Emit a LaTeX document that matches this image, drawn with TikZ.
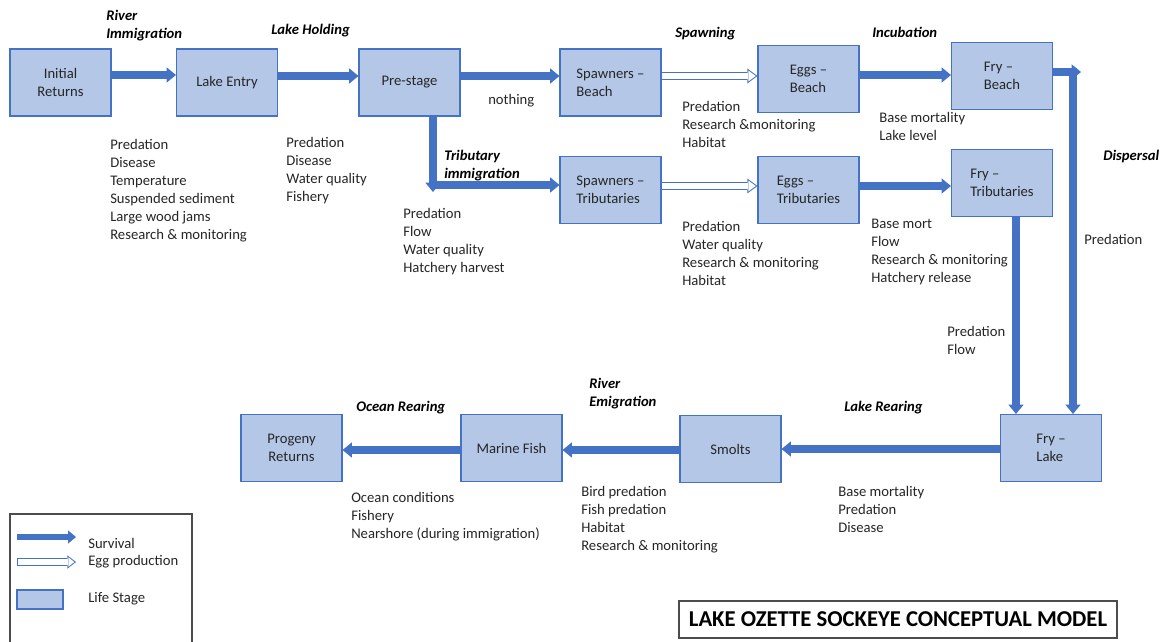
\documentclass[tikz,border=0pt]{standalone}
\usepackage{fontspec}
\setmainfont{Carlito}
\usetikzlibrary{arrows.meta}
\definecolor{boxfill}{HTML}{B4C7E7}
\definecolor{boxline}{HTML}{4472C4}
\definecolor{arrc}{HTML}{4472C4}
\definecolor{txt}{HTML}{262626}
\begin{document}
\begin{tikzpicture}[x=0.75pt,y=-0.75pt,
 stage/.style={draw=boxline, fill=boxfill, line width=0.8pt, minimum width=75.75pt, minimum height=50.25pt, inner sep=0pt, align=left, font=\fontsize{11}{13.5}\selectfont, text=txt},
 surv/.style={draw=arrc, line width=6pt, -{Triangle[length=7pt,width=11.5pt,line width=0pt]}},
 eggout/.style={draw=arrc, line width=6pt, -{Triangle[length=7.5pt,width=11pt,line width=0pt]}},
 eggin/.style={draw=white, line width=4.5pt, shorten >=1.27pt, -{Triangle[length=5.48pt,width=8pt,line width=0pt]}},
 lst/.style={anchor=north west, inner sep=0pt, align=left, font=\fontsize{11}{13.5}\selectfont, text=txt, execute at begin node=\strut},
 phase/.style={lst, font=\fontsize{11}{13.5}\selectfont\bfseries\itshape, text=black},
]
\useasboundingbox (0,0) rectangle (1160,642);
\fill[white] (0,0) rectangle (1160,642);

% life stages
\node[stage, align=center] (ir) at (60.5,82.5) {Initial\\Returns};
\node[stage] (le) at (227,82.5) {Lake Entry};
\node[stage] (ps) at (409.5,82.5) {Pre-stage};
\node[stage] (sb) at (610.5,82.5) {Spawners --\\Beach};
\node[stage] (eb) at (808.5,79) {Eggs --\\Beach};
\node[stage] (fb) at (1002,76) {Fry --\\Beach};
\node[stage] (st) at (610.5,190) {Spawners --\\Tributaries};
\node[stage] (et) at (808.5,190) {Eggs --\\Tributaries};
\node[stage] (ft) at (1002,183) {Fry --\\Tributaries};
\node[stage] (fl) at (1051,448) {Fry --\\Lake};
\node[stage] (sm) at (730.5,449) {Smolts};
\node[stage] (mf) at (511.5,448) {Marine Fish};
\node[stage, align=center] (pr) at (291.5,448) {Progeny\\Returns};

% helper coordinates
\coordinate (y75) at (0,75);
\coordinate (y76) at (0,76);
\coordinate (y186) at (0,186);
\coordinate (y449) at (0,449);
\coordinate (y450) at (0,450);
\coordinate (tdx) at (433,192);
\coordinate (th) at (430,185);
\coordinate (fbx) at (1081,72);
\coordinate (dj) at (1073,68);
\coordinate (ftx) at (1016,0);

% survival arrows
\draw[surv] (ir.east |- y75) -- (le.west |- y75);
\draw[surv] (le.east |- y76) -- (ps.west |- y76);
\draw[surv] (ps.east |- y76) -- (sb.west |- y76);
\draw[surv] (ps.south -| tdx) -- (tdx);
\draw[surv] (th) -- (st.west |- th);
\draw[surv] (eb.east |- y75) -- (fb.west |- y75);
\draw[surv] (et.east |- y186) -- (ft.west |- y186);
\draw[surv] (fb.east |- fbx) -- (fbx);
\draw[surv] (dj) -- (dj |- fl.north);
\draw[surv] (ft.south -| ftx) -- (fl.north -| ftx);
\draw[surv] (fl.west |- y449) -- (sm.east |- y449);
\draw[surv] (sm.west |- y450) -- (mf.east |- y450);
\draw[surv] (mf.west |- y450) -- (pr.east |- y450);

% egg production arrows
\draw[eggout] (sb.east |- y76) -- (eb.west |- y76);
\draw[eggin] (sb.east |- y76) -- (eb.west |- y76);
\draw[eggout] (st.east |- y186) -- (et.west |- y186);
\draw[eggin] (st.east |- y186) -- (et.west |- y186);

% phase labels
\node[phase] (pRI) at (106,10.4) {River\\Immigration};
\node[phase] (pLH) at (271,21.4) {Lake Holding};
\node[phase] (pSp) at (675,24.4) {Spawning};
\node[phase] (pIn) at (872,24.4) {Incubation};
\node[phase] (pTI) at (444,150.4) {Tributary\\immigration};
\node[phase] (pDi) at (1103,147.5) {Dispersal};
\node[phase] (pLR) at (844,398.4) {Lake Rearing};
\node[phase] (pRE) at (589,377.9) {River\\Emigration};
\node[phase] (pOR) at (356,398.4) {Ocean Rearing};

% factor lists
\node[lst] (f1) at (110,138.9) {Predation\\Disease\\Temperature\\Suspended sediment\\Large wood jams\\Research \& monitoring};
\node[lst] (f2) at (286,136.9) {Predation\\Disease\\Water quality\\Fishery};
\node[lst] (f3) at (488,91.4) {nothing};
\node[lst] (f4) at (403,207.9) {Predation\\Flow\\Water quality\\Hatchery harvest};
\node[lst] (f5) at (682,101.4) {Predation\\Research \&monitoring\\Habitat};
\node[lst] (f6) at (682,220.9) {Predation\\Water quality\\Research \& monitoring\\Habitat};
\node[lst] (f7) at (879,112.4) {Base mortality\\Lake level};
\node[lst] (f8) at (871,218.9) {Base mort\\Flow\\Research \& monitoring\\Hatchery release};
\node[lst] (f9) at (1084,231.9) {Predation};
\node[lst] (f10) at (947,326.4) {Predation\\Flow};
\node[lst] (f11) at (838,486.4) {Base mortality\\Predation\\Disease};
\node[lst] (f12) at (581,486.4) {Bird predation\\Fish predation\\Habitat\\Research \& monitoring};
\node[lst] (f13) at (351,491.9) {Ocean conditions\\Fishery\\Nearshore (during immigration)};

% legend
\draw[black!70, line width=0.8pt] (10,660) -- (10,514) -- (192,514) -- (192,660);
\coordinate (la1) at (17,537);
\coordinate (lb1) at (76,537);
\coordinate (la2) at (17,562);
\coordinate (lb2) at (76,562);
\draw[draw=arrc, line width=4.8pt, -{Triangle[length=6pt,width=10pt,line width=0pt]}] (la1) -- (lb1);
\draw[draw=arrc, line width=5.4pt, -{Triangle[length=6.5pt,width=10pt,line width=0pt]}] (la2) -- (lb2);
\draw[draw=white, line width=3.9pt, shorten >=1.3pt, shorten <=0.75pt, -{Triangle[length=4.5pt,width=7.2pt,line width=0pt]}] (la2) -- (lb2);
\node[draw=boxline, fill=boxfill, line width=0.8pt, minimum width=34.5pt, minimum height=14.25pt, inner sep=0pt] (lbox) at (40,599.5) {};
\node[lst] (lt1) at (88,535.4) {Survival};
\node[lst] (lt2) at (88,552.9) {Egg production};
\node[lst] (lt3) at (88,589.4) {Life Stage};

% title
\node[draw=black!70, line width=0.8pt, minimum width=328.5pt, minimum height=27.75pt, inner sep=0pt, font=\fontsize{17}{20}\selectfont\bfseries, text=black] (title) at (898,619.5) {LAKE OZETTE SOCKEYE CONCEPTUAL MODEL};
\end{tikzpicture}
\end{document}
